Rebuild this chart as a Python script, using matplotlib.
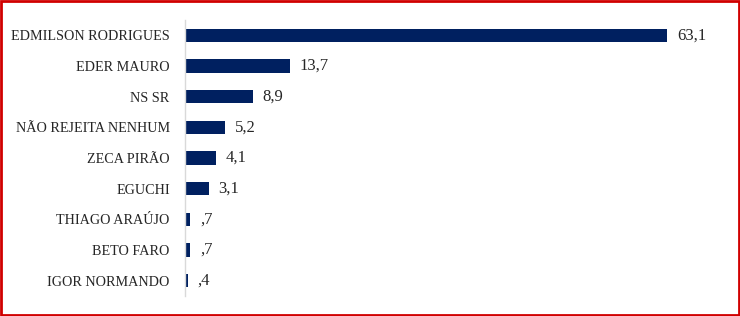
import matplotlib.pyplot as plt
from matplotlib.patches import Rectangle

# data
candidates = ['EDMILSON RODRIGUES', 'EDER MAURO', 'NS SR', 'NÃO REJEITA NENHUM',
              'ZECA PIRÃO', 'EGUCHI', 'THIAGO ARAÚJO', 'BETO FARO', 'IGOR NORMANDO']
values = [63.1, 13.7, 8.9, 5.2, 4.1, 3.1, 0.7, 0.7, 0.4]
value_labels = ['63,1', '13,7', '8,9', '5,2', '4,1', '3,1', ',7', ',7', ',4']

BAR_COLOR = '#002060'
FONT = ['Liberation Serif', 'DejaVu Serif']

fig = plt.figure(figsize=(7.4, 3.16), dpi=100)
ax = fig.add_axes([185 / 740, 20 / 316, 535 / 740, 276 / 316])

ypos = list(range(len(candidates)))
ax.barh(ypos, values, height=0.43, color=BAR_COLOR)
ax.set_ylim(len(candidates) - 0.5, -0.5)
ax.set_xlim(0, 70)

for y, v, lab in zip(ypos, values, value_labels):
    ax.annotate(lab, (v, y), xytext=(7, 0), textcoords='offset points',
                va='center', ha='left', fontsize=12, family=FONT, color='#262626')

ax.set_yticks(ypos)
ax.set_yticklabels(candidates, family=FONT, fontsize=10.2, color='#262626')
ax.tick_params(axis='y', length=0, pad=11)
ax.set_xticks([])

for side in ['top', 'right', 'bottom']:
    ax.spines[side].set_visible(False)
ax.spines['left'].set_color('#D9D9D9')
ax.spines['left'].set_linewidth(1)

# red frame around the whole picture
fig.patches.append(Rectangle((0.0015, 0.003), 0.997, 0.994, transform=fig.transFigure,
                             fill=False, edgecolor='#D00000', linewidth=2))

fig.savefig('out.png', dpi=100)
